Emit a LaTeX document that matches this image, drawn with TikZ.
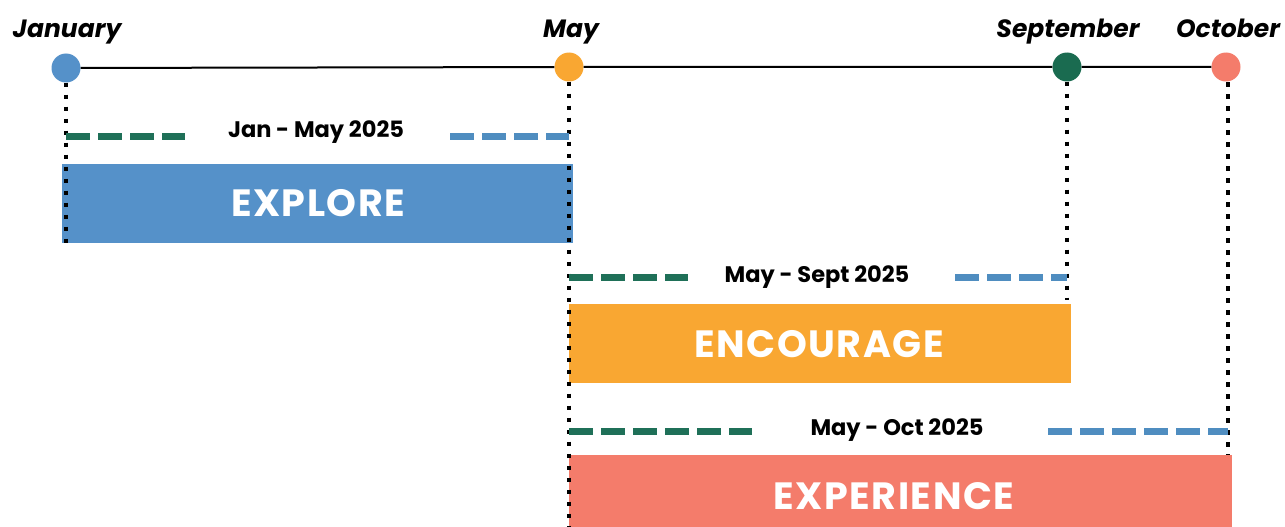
\documentclass[tikz,border=0pt]{standalone}
\usepackage{fontspec}
\setmainfont{Poppins}
\newfontfamily\boxfont[LetterSpace=4]{Poppins}
\definecolor{cblue}{HTML}{5591C9}
\definecolor{corange}{HTML}{F9A732}
\definecolor{cgreen}{HTML}{1A6B50}
\definecolor{csalmon}{HTML}{F47C6B}
\definecolor{dgreen}{HTML}{1F7058}
\definecolor{dblue}{HTML}{4F8DC0}
\tikzset{
  dot/.style={circle, inner sep=0pt, minimum size=29pt, draw=none},
  month/.style={anchor=base, inner sep=0pt, font=\fontsize{25}{28}\selectfont\bfseries\itshape},
  datelbl/.style={anchor=base, inner sep=0pt, font=\fontsize{22.5}{26}\selectfont\bfseries},
  bar/.style={draw=none, inner sep=0pt},
  bartext/.style={anchor=base, inner sep=0pt, text=white, font=\fontsize{38}{42}\selectfont\boxfont\bfseries},
  gdash/.style={draw=dgreen, line width=7pt, dash pattern=on 24pt off 8pt},
  bdash/.style={draw=dblue, line width=7pt, dash pattern=on 24pt off 8pt},
  dotline/.style={draw=black, line width=4.5pt, dash pattern=on 4.5pt off 7.5pt},
  tline/.style={draw=black, line width=2pt}
}
\begin{document}
\begin{tikzpicture}[x=1pt,y=-1pt]
\useasboundingbox (0,0) rectangle (1285,527);
% bars
\fill[cblue] (62,164) rectangle (573,243);
\fill[corange] (569,304) rectangle (1071,383);
\fill[csalmon] (569,455) rectangle (1232,527);
% timeline
\node[dot, fill=cblue] (jan) at (66,68) {};
\node[dot, fill=corange] (may) at (569,67) {};
\node[dot, fill=cgreen] (sep) at (1067,67) {};
\node[dot, fill=csalmon] (oct) at (1226,67) {};
\draw[tline] (jan) -- (may) -- (sep) -- (oct);
\node[month] (janl) at (67,38) {January};
\node[month] (mayl) at (571,38) {May};
\node[month] (sepl) at (1068,38) {September};
\node[month] (octl) at (1228,38) {October};
% row coordinates
\coordinate (r1) at (0,136);
\coordinate (r2) at (0,277);
\coordinate (r3) at (0,431);
\coordinate (b1) at (0,243);
\coordinate (b2) at (0,300);
\coordinate (b3) at (0,527);
% dotted verticals
\draw[dotline] (jan.south) -- (jan |- b1);
\draw[dotline] (may.south) -- (may |- b3);
\draw[dotline] (sep.south) -- (sep |- b2);
\draw[dotline] (1228,82) -- (1228,455);
% dashed lines
\coordinate (g1e) at (185,136);
\coordinate (bl1s) at (450,136);
\draw[gdash] (jan |- r1) -- (g1e);
\draw[bdash] (bl1s) -- (may |- r1);
\coordinate (g2e) at (688,277);
\coordinate (bl2s) at (955,277);
\draw[gdash] (may |- r2) -- (g2e);
\draw[bdash] (bl2s) -- (sep |- r2);
\coordinate (g3e) at (752,431);
\coordinate (bl3s) at (1048,431);
\coordinate (bl3e) at (1228,431);
\draw[gdash] (may |- r3) -- (g3e);
\draw[bdash] (bl3s) -- (bl3e);
% date labels
\node[datelbl] (d1) at (316,137) {Jan - May 2025};
\node[datelbl] (d2) at (817,282) {May - Sept 2025};
\node[datelbl] (d3) at (897,435) {May - Oct 2025};
% bar labels
\node[bartext] (t1) at (318,216) {EXPLORE};
\node[bartext] (t2) at (819,357) {ENCOURAGE};
\node[bartext] (t3) at (894,509) {EXPERIENCE};
\end{tikzpicture}
\end{document}
